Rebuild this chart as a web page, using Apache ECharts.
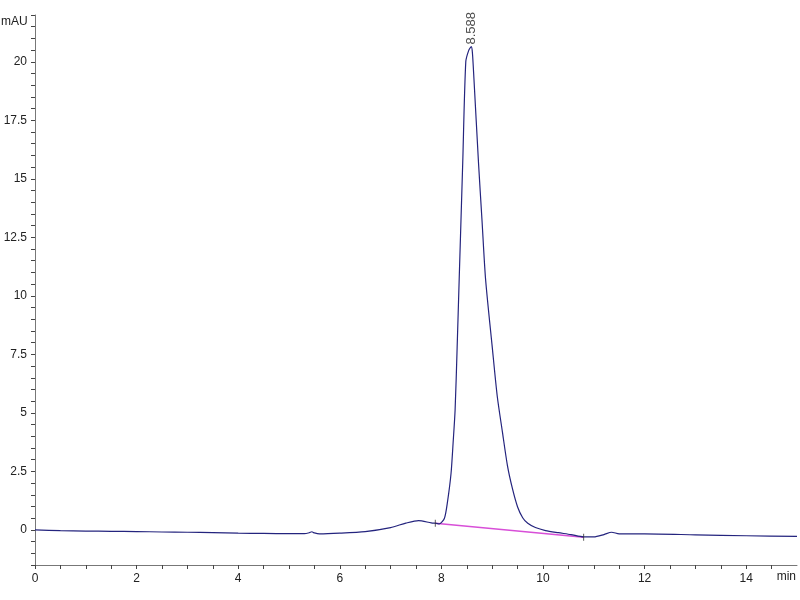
<!DOCTYPE html>
<html>
<head>
<meta charset="utf-8">
<script src="https://cdn.jsdelivr.net/npm/echarts@6/dist/echarts.min.js"></script>
<style>
  html, body { margin: 0; padding: 0; background: #fff; }
  #box { width: 800px; height: 600px; }
</style>
</head>
<body>
<div id="box"></div>
<script>
// chromatogram trace (min, mAU)
var times = [0, 0.5, 1, 1.5, 2, 2.5, 3, 3.5, 4, 4.5, 5, 5.3, 5.4, 5.45, 5.5, 5.6, 6, 6.5, 7, 7.3, 7.55, 7.8, 7.9,
  7.96, 8.06, 8.12, 8.19, 8.23, 8.27, 8.31, 8.35, 8.42, 8.48, 8.54, 8.588, 8.61, 8.64, 8.73, 8.8, 8.87, 9.0, 9.1,
  9.2, 9.3, 9.4, 9.5, 9.6, 9.7, 9.85, 10.05, 10.3, 10.55, 10.8, 11.0, 11.2, 11.35, 11.5, 11.6, 12, 13, 14, 15]
var signal = [0, -0.03, -0.05, -0.06, -0.07, -0.09, -0.1, -0.12, -0.14, -0.15, -0.16, -0.16, -0.12, -0.08, -0.13, -0.17, -0.14, -0.07, 0.1, 0.29, 0.4, 0.3, 0.28,
  0.26, 0.5, 1.2, 2.42, 3.7, 5.13, 7.8, 10.7, 15.7, 20.0, 20.5, 20.65, 20.4, 19.3, 15.7, 13.2, 10.7, 7.83, 5.7,
  4.2, 2.75, 1.75, 0.98, 0.52, 0.28, 0.1, -0.03, -0.12, -0.2, -0.3, -0.3, -0.2, -0.1, -0.17, -0.17, -0.17, -0.21, -0.25, -0.28]
// integration baseline
var baseT = [7.88, 10.8]
var baseY = [0.28, -0.31]
// peak annotation
var peakT = 8.588
var peakY = 20.65
var peakLabel = '8.588'

var trace = times.map(function (t, i) { return [t, signal[i]] })
var baseline = baseT.map(function (t, i) { return [t, baseY[i]] })

var chart = echarts.init(document.getElementById('box'))
var font = 'Liberation Sans, Arial, sans-serif'
var option = {
  animation: false,
  grid: { left: 35, right: 3, top: 15, bottom: 35 },
  xAxis: {
    type: 'value',
    min: 0,
    max: 15,
    interval: 0.5,
    axisLine: { onZero: false, lineStyle: { color: '#777' } },
    axisTick: { length: 4, lineStyle: { color: '#444' } },
    splitLine: { show: false },
    axisLabel: {
      color: '#222',
      fontFamily: font,
      fontSize: 12,
      margin: 8,
      showMaxLabel: false,
      formatter: function (v) {
        return (Math.abs(v % 2) < 1e-6) ? String(v) : ''
      }
    }
  },
  yAxis: {
    type: 'value',
    min: -1.5,
    max: 22,
    interval: 0.5,
    axisLine: { show: true, lineStyle: { color: '#777' } },
    axisTick: { show: true, length: 4, lineStyle: { color: '#444' } },
    splitLine: { show: false },
    axisLabel: {
      color: '#222',
      fontFamily: font,
      fontSize: 12,
      margin: 8,
      formatter: function (v) {
        return (Math.abs(v % 2.5) < 1e-6) ? String(v) : ''
      }
    }
  },
  graphic: [
    { type: 'text', left: 1, top: 16, style: { text: 'mAU', font: '12px ' + font, fill: '#222' } },
    { type: 'text', right: 4, top: 571, style: { text: 'min', font: '12px ' + font, fill: '#222' } }
  ],
  series: [
    {
      name: 'baseline',
      type: 'line',
      data: baseline,
      symbol: 'none',
      lineStyle: { color: '#d84fd8', width: 1.5 },
      z: 2
    },
    {
      name: 'trace',
      type: 'line',
      data: trace,
      symbol: 'none',
      smooth: 0.25,
      lineStyle: { color: '#24247e', width: 1.2 },
      z: 3
    },
    {
      name: 'marks',
      type: 'scatter',
      data: baseline,
      symbol: 'rect',
      symbolSize: [1, 7],
      itemStyle: { color: '#333' },
      z: 4
    },
    {
      name: 'peak',
      type: 'scatter',
      data: [[peakT, peakY]],
      symbolSize: 0,
      label: {
        show: true,
        position: 'top',
        rotate: 90,
        distance: 2,
        align: 'left',
        verticalAlign: 'middle',
        color: '#222',
        fontFamily: font,
        fontSize: 13,
        formatter: peakLabel
      }
    }
  ]
}
chart.setOption(option)
</script>
</body>
</html>
